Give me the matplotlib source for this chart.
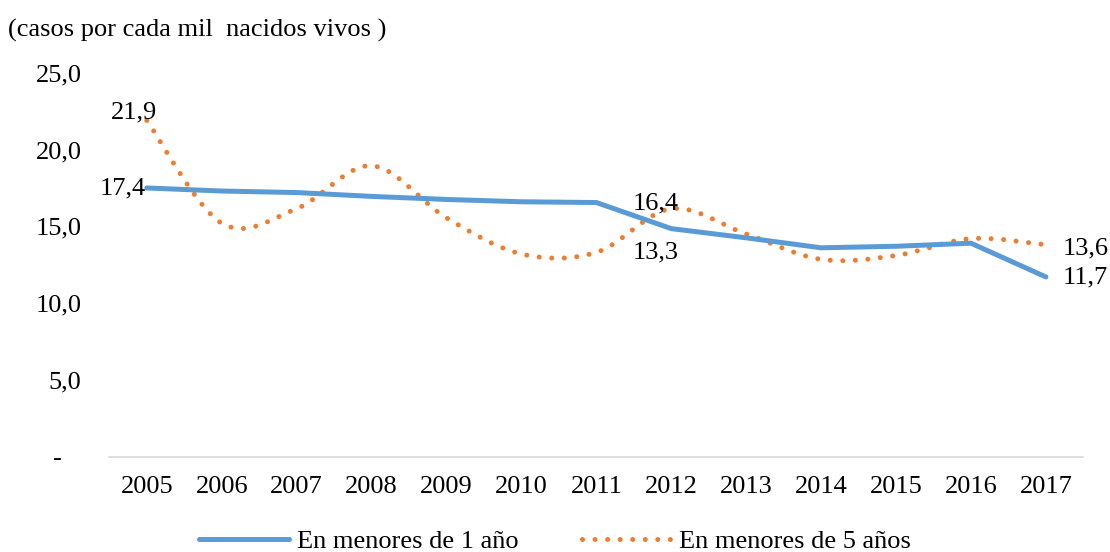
import matplotlib.pyplot as plt
import numpy as np
from matplotlib.path import Path
from matplotlib.patches import PathPatch
from matplotlib.lines import Line2D

years = ['2005', '2006', '2007', '2008', '2009', '2010', '2011',
         '2012', '2013', '2014', '2015', '2016', '2017']
menores_1 = [17.5, 17.3, 17.2, 16.95, 16.75, 16.6, 16.55,
             14.85, 14.25, 13.6, 13.7, 13.9, 11.7]
menores_5 = [21.9, 15.2, 16.15, 18.95, 15.55, 13.2, 13.3,
             16.15, 14.5, 12.85, 13.1, 14.2, 13.8]
yticks = [0, 5, 10, 15, 20, 25]
ytick_labels = ['-   ', '5,0', '10,0', '15,0', '20,0', '25,0']

# data labels: (text, index)
labels_1 = [('17,4', 0), ('13,3', 7), ('11,7', 12)]
labels_5 = [('21,9', 0), ('16,4', 7), ('13,6', 12)]

BLUE = '#5B9BD5'
ORANGE = '#ED7D31'

plt.rcParams['font.family'] = ['Liberation Serif', 'DejaVu Serif']
FS = 19


def smooth_path(xs, ys):
    # excel-like smoothed line, catmull-rom as cubic bezier segments
    pts = np.column_stack([xs, ys]).astype(float)
    n = len(pts)
    verts = [pts[0]]
    codes = [Path.MOVETO]
    for i in range(n - 1):
        p0 = pts[i - 1] if i > 0 else pts[i]
        p1 = pts[i]
        p2 = pts[i + 1]
        p3 = pts[i + 2] if i + 2 < n else pts[i + 1]
        c1 = p1 + (p2 - p0) / 6.0
        c2 = p2 - (p3 - p1) / 6.0
        verts += [c1, c2, p2]
        codes += [Path.CURVE4] * 3
    return Path(verts, codes)


fig = plt.figure(figsize=(11.1, 5.52), dpi=100)
ax = fig.add_axes([0.0985, 0.173, 0.8775, 0.695])

x = np.arange(len(years))
dots = (0, (0.01, 2.5))

ax.plot(x, menores_1, color=BLUE, lw=3.6, solid_capstyle='round',
        solid_joinstyle='round')
patch = PathPatch(smooth_path(x, menores_5), fill=False, edgecolor=ORANGE,
                  lw=3.6, linestyle=dots, capstyle='round')
ax.add_patch(patch)

ax.set_xlim(-0.5, len(years) - 0.5)
ax.set_ylim(0, 25)
ax.set_xticks(x)
ax.set_xticklabels(years, fontsize=FS)
ax.set_yticks(yticks)
ax.set_yticklabels(ytick_labels, fontsize=FS)
ax.tick_params(length=0)
ax.tick_params(axis='x', pad=14)
ax.tick_params(axis='y', pad=20)
for s in ['top', 'right', 'left']:
    ax.spines[s].set_visible(False)
ax.spines['bottom'].set_color('#D9D9D9')
ax.spines['bottom'].set_linewidth(1.2)

# data labels
offs_1 = {0: (-1, 0, 'right', 'center'), 7: (-11, -17, 'center', 'center'),
          12: (12, 0, 'left', 'center')}
offs_5 = {0: (-9, 6, 'center', 'center'), 7: (-11, 4, 'center', 'center'),
          12: (12, -3, 'left', 'center')}
for txt, i in labels_1:
    dx, dy, ha, va = offs_1[i]
    ax.annotate(txt, (x[i], menores_1[i]), xytext=(dx, dy),
                textcoords='offset points', ha=ha, va=va, fontsize=FS)
for txt, i in labels_5:
    dx, dy, ha, va = offs_5[i]
    ax.annotate(txt, (x[i], menores_5[i]), xytext=(dx, dy),
                textcoords='offset points', ha=ha, va=va, fontsize=FS)

fig.text(0.007, 0.945, '(casos por cada mil  nacidos vivos )', fontsize=FS,
         ha='left', va='center')

handles = [Line2D([], [], color=BLUE, lw=3.6, solid_capstyle='round'),
           Line2D([], [], color=ORANGE, lw=3.6, linestyle=dots,
                  dash_capstyle='round')]
fig.legend(handles, ['En menores de 1 año', 'En menores de 5 años'],
           loc='center', bbox_to_anchor=(0.5, 1 - 541 / 552), ncol=2,
           frameon=False, fontsize=FS, handlelength=3.4, handletextpad=0.3,
           columnspacing=2.4)

fig.savefig('out.png', dpi=100)
